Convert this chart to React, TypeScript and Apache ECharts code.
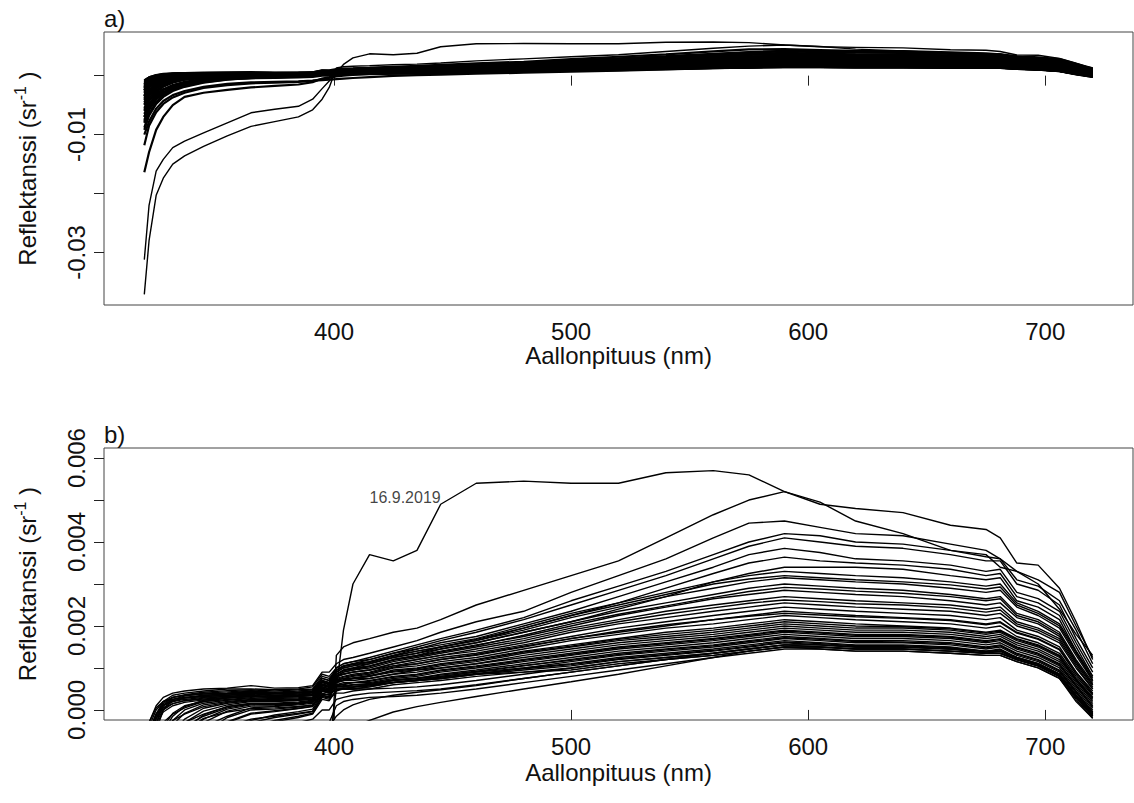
import React, { useEffect, useRef } from "react";
import * as echarts from "echarts";

// Sampled wavelengths (nm) shared by every spectrum
const WAVELENGTHS = [
  320, 322, 325, 328, 332, 337, 345, 355, 365, 375,
  385, 391, 395, 398, 401, 404, 408, 415, 425, 435,
  445, 460, 480, 500, 520, 540, 560, 575, 590, 605,
  620, 640, 660, 675, 681, 688, 697, 706, 713, 720,
];

// Remote-sensing reflectance spectra, in units of 1e-4 sr^-1
const UNIT = 1e-4;

const SPECTRUM_2019_09_16 = [
  -312, -220, -162, -142, -122, -111, -97, -80, -63, -57,
  -52, -40, -22, -9, 5, 19, 30, 37, 35.5, 38,
  49, 54, 54.5, 54, 54, 56.5, 57, 56, 52, 49,
  48, 47, 44, 43, 41, 35, 34.5, 29, 21, 12,
];
const SPECTRUM_B = [
  -371, -280, -203, -174, -150, -136, -120, -102, -86, -78,
  -70, -58, -40, -20, 13, 15, 16, 17, 18.5, 19.5,
  21.5, 25, 28.5, 32, 35.5, 41, 46.5, 50, 52, 49.5,
  45, 42, 38, 37, 34, 33, 30, 24, 18, 13,
];
const HIGH_1 = [
  -8, -3, 1, 3, 4, 4.5, 5, 5.2, 5.8, 5.2,
  5.3, 5.8, 9, 9, 11, 12, 12.5, 13.5, 15, 16.5,
  18.5, 21, 23.5, 28, 32, 36, 41, 44.5, 45, 43.5,
  42, 41.5, 39.5, 38, 36, 33, 31, 28, 20, 12.5,
];
const HIGH_2 = [
  -15, -6, -1, 2, 3.5, 4, 4.5, 5, 5, 4.8,
  5, 5.5, 8.5, 8, 10, 11, 11.5, 12.5, 14, 15.5,
  17, 19, 22, 26, 29.5, 33, 37, 40, 42, 41.5,
  40, 39.5, 38, 36.5, 36, 31, 29.5, 26, 19, 11,
];
const HIGH_3 = [
  -25, -10, -3, 1, 3, 3.6, 4.2, 4.6, 4.8, 4.5,
  4.8, 5, 8, 7.5, 9.5, 10.5, 11, 12, 13.5, 15,
  16.5, 18.5, 21.5, 25, 28.5, 32, 36, 39, 41, 40,
  39, 38.5, 37, 35.5, 35.5, 30, 28.5, 25, 17, 10,
];
const HIGH_4 = [
  -35, -14, -5, 0, 2.5, 3.3, 4, 4.3, 4.6, 4.2,
  4.5, 4.8, 7.5, 7, 9, 10, 10.5, 11.5, 13, 14.5,
  16, 17.5, 20.5, 23.5, 27, 30.5, 34, 37, 38.5, 37.5,
  36, 35.5, 34.5, 33, 33.5, 28, 26.5, 23.5, 16, 9,
];
const HIGH_5 = [
  -12, -5, -1, 1.5, 3, 3.5, 3.8, 4, 4.3, 4,
  4.2, 4.5, 7, 6.5, 8.5, 9.5, 10, 11, 12.5, 13.5,
  15, 16.5, 19.5, 22.5, 25.5, 29, 32.5, 35, 36.4, 35.5,
  35, 34.5, 33.5, 32, 32.5, 27, 25.5, 22.5, 15, 8,
];
const HIGH_6 = [
  -20, -8, -2, 1, 2.5, 3, 3.5, 3.8, 4, 3.8,
  4, 4.2, 6.8, 6, 8, 9, 9.5, 10.5, 12, 13,
  14.5, 16, 18.5, 21, 24, 27, 30.5, 32.5, 34, 34,
  34, 33.5, 32, 31, 31.5, 26, 24.5, 21.5, 14, 7,
];
const MID_1 = [
  -10, -4, 0, 2, 3, 3.5, 3.8, 4, 4.5, 4,
  4.2, 4.5, 7.5, 7, 10, 11, 11.5, 12, 13.5, 14.5,
  15.5, 17, 20, 23, 25.5, 28, 30.5, 32, 33, 32.5,
  32, 31.5, 30.5, 29.5, 30, 25.5, 23.5, 20.5, 14, 8,
];
const MID_2 = [
  -18, -7, -2, 0.5, 2, 2.8, 3.2, 3.5, 3.8, 3.5,
  3.8, 4, 7, 6.5, 9.5, 10.5, 11, 11.5, 13, 14,
  15, 16.5, 19, 22, 24.5, 27, 29, 30.5, 31.5, 31,
  30.5, 30, 29, 28, 28.5, 24.5, 22.5, 19.5, 13, 7,
];
const MID_3 = [
  -30, -18, -9.5, -5, -1.5, 0.8, 2.3, 2.9, 3.3, 3,
  3.3, 3.6, 6.5, 6, 9, 10, 10.5, 11, 12.5, 13.5,
  14.5, 16, 18.5, 21, 23.5, 25.5, 27.5, 29, 30, 29.5,
  29, 28.5, 27.5, 26.5, 27, 23, 21.5, 18.5, 12, 6.5,
];
const MID_4 = [
  -8, -3, 0.5, 2, 2.5, 3, 3.2, 3.5, 4, 3.5,
  3.5, 3.8, 6, 5.5, 8.5, 9.5, 10, 10.5, 12, 13,
  14, 15.5, 17.5, 20, 22.5, 24.5, 26.5, 27.5, 28.5, 28,
  27.5, 27, 26, 25, 25.5, 22, 20.5, 17.5, 11.5, 6,
];
const MID_5 = [
  -45, -30, -19, -12, -6.5, -3, -0.3, 1.2, 2, 2,
  2.3, 2.6, 5.5, 5, 8, 9, 9.5, 10, 11.5, 12.5,
  13.5, 15, 17, 19.5, 21.5, 23.5, 25, 26, 27, 26.5,
  26, 25.5, 25, 24, 24.5, 21, 19.5, 17, 11, 5.5,
];
const MID_6 = [
  -22, -9, -3, 0, 1.5, 2.2, 2.6, 3, 3.2, 3,
  3.2, 3.5, 6, 5.5, 8, 8.5, 9, 9.5, 11, 12,
  13, 14, 16, 18.5, 20.5, 22, 23.5, 24.5, 25.5, 25,
  24.5, 24, 23.5, 22.5, 23, 20, 18.5, 16, 10, 5,
];
const MID_7 = [
  -60, -42, -28, -19, -12, -7, -3, -0.3, 0.9, 1,
  1.4, 1.9, 5, 4.5, 7.5, 8, 8.5, 9, 10.5, 11.5,
  12.5, 13.5, 15.5, 17.5, 19.5, 21, 22.5, 23.5, 24.5, 24,
  23.5, 23, 22.5, 21.5, 22, 19, 17.5, 15, 9, 4,
];
const MID_8 = [
  -15, -6, -1.5, 1, 2, 2.5, 3, 3.2, 3.5, 3.2,
  3.4, 3.6, 6.2, 5.8, 8, 8.5, 9, 9.5, 10.5, 11,
  12, 13, 15, 17, 18.5, 20, 21.5, 22.5, 23.5, 23,
  22.5, 22, 21.5, 20.5, 21, 18.5, 17, 14.5, 9, 4.5,
];
const MID_9 = [
  -38, -24, -14, -8, -3.5, -0.8, 1.2, 2, 2.5, 2.3,
  2.5, 2.9, 5.5, 5, 7, 7.5, 8, 8.5, 10, 10.5,
  11.5, 12.5, 14.5, 16.5, 18, 19.5, 20.5, 21.5, 22.5, 22,
  21.5, 21, 20.5, 19.5, 20, 17.5, 16, 13.5, 8, 3.5,
];
const MID_10 = [
  -80, -58, -40, -29, -20, -13, -7, -2.8, -0.8, -0.2,
  0.4, 0.9, 4.5, 4, 7, 7.5, 7.5, 8, 9.5, 10,
  11, 12, 14, 15.5, 17, 18.5, 19.5, 20.5, 21.5, 21,
  20.5, 20, 19.5, 18.5, 19, 17, 15.5, 13, 7.5, 3,
];
const MID_11 = [
  -27, -16, -8, -4, -0.8, 1, 2, 2.5, 2.9, 2.7,
  2.9, 3.1, 5.5, 5, 6.5, 7, 7.5, 8, 9, 9.5,
  10.5, 11.5, 13.5, 15, 16.5, 17.5, 18.5, 19.5, 20.5, 20,
  19.5, 19.5, 19, 18, 18.5, 16.5, 15, 12.5, 7, 2.5,
];
const MID_12 = [
  -50, -34, -22, -14.5, -8.5, -4.5, -1.2, 0.8, 1.6, 1.6,
  1.9, 2.3, 5, 4.5, 6.5, 7, 7, 7.5, 8.5, 9.5,
  10, 11, 13, 14.5, 16, 17, 18, 19, 20, 19.5,
  19, 19, 18.5, 17.5, 18, 16, 14.5, 12, 7, 2,
];
const MID_13 = [
  -12, -5, -1, 1.2, 2.2, 2.8, 3.4, 3.8, 4.2, 3.9,
  4, 4.3, 6.8, 6.5, 7, 7, 7.5, 7.5, 8.5, 9,
  10, 11, 12.5, 14, 15.5, 16.5, 17.5, 18.5, 19.5, 19,
  18.5, 18.5, 18, 17, 17.5, 15.5, 14, 11.5, 6.5, 1.5,
];
const MID_14 = [
  -70, -50, -34, -24, -16, -10.5, -5.5, -1.8, 0, 0.2,
  0.7, 1.2, 4.5, 4, 6, 6.5, 6.5, 7, 8, 8.5,
  9.5, 10.5, 12, 13.5, 15, 16, 17, 18, 19, 18.5,
  18, 18, 17.5, 16.5, 17, 15, 13.5, 11, 6, 1,
];
const MID_15 = [
  -33, -20, -11, -6, -2.5, 0, 1.6, 2.3, 2.7, 2.5,
  2.7, 2.9, 5.2, 4.8, 6, 6, 6.5, 6.5, 7.5, 8,
  9, 10, 11.5, 13, 14.5, 15.5, 16.5, 17.5, 18.5, 18,
  17.5, 17.5, 17, 16, 16.5, 14.5, 13, 10.5, 5.5, 0.5,
];
const MID_16 = [
  -88, -64, -45, -33, -24, -17, -10, -5, -2.5, -1.2,
  -0.4, 0.2, 3.8, 3.5, 5.5, 5.5, 6, 6, 7, 7.5,
  8.5, 9.5, 11, 12.5, 14, 15, 16, 17, 18, 17.5,
  17, 17, 16.5, 15.5, 16, 14, 12.5, 10, 5, 0,
];
const MID_17 = [
  -42, -28, -17, -10.5, -5.5, -2.2, 0.4, 1.6, 2.2, 2.1,
  2.3, 2.6, 5, 4.5, 5.5, 5.5, 6, 6, 7, 7.5,
  8, 9, 10.5, 12, 13.5, 14.5, 15.5, 16.5, 17.5, 17,
  16.5, 16.5, 16, 15, 15.5, 13.5, 12, 9.5, 4.5, -0.5,
];
const MID_18 = [
  -25, -10, -3.5, -0.5, 1, 1.8, 2.4, 2.8, 3.2, 3,
  3.2, 3.4, 5.8, 5.3, 5.5, 5.5, 5.5, 6, 6.5, 7,
  8, 9, 10, 11.5, 13, 14, 15, 16, 17, 16.5,
  16, 16, 15.5, 14.5, 15, 13, 11.5, 9, 4, -0.5,
];
const MID_19 = [
  -92, -68, -48, -36, -26, -19, -12, -7, -4, -2.5,
  -1.5, -0.8, 3, 2.5, 4.5, 5, 5, 5.5, 6.5, 7,
  7.5, 8.5, 10, 11, 12.5, 13.5, 14.5, 15.5, 16.5, 16,
  15.5, 15.5, 15, 14, 14.5, 12.5, 11, 8.5, 3.5, -1,
];
const MID_20 = [
  -55, -38, -25, -17, -10.5, -6, -2.2, 0.2, 1.2, 1.3,
  1.6, 2, 4.5, 4, 5, 5, 5, 5.5, 6.5, 7,
  7.5, 8.5, 9.5, 10.5, 12, 13, 14, 15, 16, 15.5,
  15, 15, 14.5, 13.5, 14, 12, 10.5, 8, 3, -1,
];
const MID_21 = [
  -16, -6.5, -2, 0.5, 1.5, 2.2, 2.8, 3.2, 3.6, 3.4,
  3.6, 3.8, 6, 5.6, 6, 5.5, 5.5, 6, 6.5, 7,
  7.5, 8.5, 9, 10, 11.5, 12.5, 13.5, 14.5, 15.5, 15,
  14.5, 14.5, 14, 13.5, 13.5, 12, 10.5, 8, 3, -1.5,
];
const MID_22 = [
  -78, -56, -39, -28, -19, -13, -7, -3, -1, -0.4,
  0.3, 0.8, 4, 3.6, 5, 5, 5, 5, 6, 6.5,
  7, 8, 9, 9.5, 11, 12, 13, 14, 15, 14.5,
  14, 14, 13.5, 13, 13, 11.5, 10, 7.5, 2, -2,
];
const MID_23 = [
  -20, -12, -6, -3, -1, 0.5, 2, 2.8, 3.2, 3,
  3.3, 3.6, 6.6, 6.2, 9.5, 10.3, 10.8, 11.3, 12.8, 14,
  15, 16.8, 19.5, 22.5, 25, 27.5, 30, 31.2, 32, 31.5,
  31, 30.5, 29.8, 28.8, 29.3, 25, 23, 20, 13.5, 7.5,
];
const MID_24 = [
  -40, -28, -19, -14, -10, -7, -4, -1.5, 0.5, 0.8,
  1.2, 1.6, 4.8, 4.3, 8.5, 9.3, 9.8, 10.3, 11.8, 12.8,
  13.8, 15.3, 17.8, 20.5, 22.8, 24.8, 26.8, 28.2, 29.2, 28.8,
  28.3, 27.8, 27, 26, 26.5, 22.5, 21, 18, 11.5, 6,
];
const MID_25 = [
  -28, -19, -12, -8, -5, -3, -1, 0.8, 1.5, 1.4,
  1.6, 2, 5, 4.6, 7.8, 8.6, 9, 9.5, 11, 12,
  13, 14.5, 16.5, 19, 21, 22.8, 24.3, 25.4, 26.2, 25.8,
  25.3, 25, 24.3, 23.3, 23.8, 20.5, 19, 16.5, 10.5, 5,
];
const MID_26 = [
  -70, -50, -36, -28, -21, -16, -10, -5.5, -3, -1.8,
  -1, -0.4, 3.5, 3.1, 7.2, 7.8, 8.2, 8.8, 10.2, 11,
  12, 13.2, 15.2, 17, 18.8, 20.3, 21.5, 22.3, 23, 22.6,
  22.2, 21.8, 21.3, 20.3, 20.8, 18.3, 16.8, 14.3, 8.5, 3.8,
];
const MID_27 = [
  -35, -24, -15, -10, -6.5, -4, -1.5, 0.5, 1.4, 1.3,
  1.6, 2, 4.8, 4.3, 6.6, 7.2, 7.6, 8.2, 9.2, 9.8,
  10.8, 11.8, 13.8, 15.2, 16.8, 18, 19, 20, 21, 20.5,
  20, 19.8, 19.3, 18.3, 18.8, 16.8, 15.3, 12.8, 7.3, 2.8,
];
const MID_28 = [
  -58, -42, -30, -23, -17, -12.5, -7.5, -4, -2.2, -1.5,
  -0.8, -0.3, 3.2, 2.8, 5.8, 6.2, 6.5, 6.8, 7.8, 8.3,
  9.3, 10.3, 11.8, 13.2, 14.8, 15.8, 16.8, 17.8, 18.8, 18.3,
  17.8, 17.8, 17.3, 16.3, 16.8, 14.8, 13.3, 10.8, 5.8, 0.8,
];
const MID_29 = [
  -22, -14, -8, -5, -2.5, -1, 0.8, 1.8, 2.4, 2.2,
  2.4, 2.6, 5, 4.6, 5.6, 5.8, 6, 6.3, 7.2, 7.6,
  8.3, 9.2, 10.6, 11.8, 13.2, 14.3, 15.3, 16.3, 17.2, 16.8,
  16.3, 16.2, 15.8, 14.8, 15.3, 13.3, 11.8, 9.3, 4.3, -0.8,
];
const MID_30 = [
  -75, -55, -40, -31, -23, -17, -11, -6.5, -4, -2.8,
  -1.8, -1, 2.5, 2.2, 4.8, 5.2, 5.4, 5.7, 6.6, 7.2,
  7.8, 8.7, 9.8, 10.8, 12.2, 13.2, 14.2, 15.2, 16.2, 15.8,
  15.3, 15.3, 14.8, 13.8, 14.3, 12.3, 10.8, 8.3, 3.3, -1.2,
];
const LOW_1 = [
  -65, -47, -33, -24, -17, -12, -8, -5.5, -4.5, -4,
  -3, -2.2, 0, 0, 2.5, 3, 3.5, 4, 4.3, 4.6,
  5, 6, 7.5, 9, 10.5, 12, 13, 14, 15, 15,
  14.5, 14.5, 14, 13.5, 13.5, 12, 10.5, 8, 3, -1.5,
];
const LOW_2 = [
  -164, -130, -92, -70, -50, -36, -29, -24, -20, -17.5,
  -15, -11, -5, -3, 1, 2, 2.5, 3, 3.2, 3.5,
  4, 5, 6.5, 8, 9.5, 11, 12.5, 13.5, 14.5, 14.5,
  14, 14, 13.5, 13, 13, 11.5, 10, 7.5, 2.5, -2,
];
const LOW_3 = [
  -100, -78, -56, -43, -33, -26, -19, -14, -11.5, -10.5,
  -9.5, -8.5, -7.5, -7, -6, -5, -4, -2.5, -0.5, 0.8,
  1.8, 3.2, 5, 6.7, 8.5, 10.5, 12.5, 14, 15, 15,
  14.5, 14.5, 14, 13.5, 13.5, 12, 10.5, 8, 3, -1.5,
];
const LOW_4 = [
  -118, -85, -62, -48, -37, -29, -21, -16, -13, -12,
  -10.5, -9, -6, -4, -1.5, 0, 1.2, 2.5, 3.5, 4.2,
  4.8, 5.8, 7.5, 9, 10.5, 12, 13.5, 14.5, 15.5, 15.5,
  15, 15, 14.5, 14, 14, 12.5, 11, 8.5, 3.5, -1,
];
const LOW_5 = [
  -48, -33, -21, -14, -8.5, -5, -2, -0.5, 0.3, 0.5,
  0.8, 1.1, 3.5, 3, 4, 4, 4.5, 5, 5.2, 5.5,
  6, 7, 8.5, 10, 11.5, 12.5, 13.5, 14.5, 15.5, 15.5,
  15, 15, 14.5, 14, 14, 12.5, 11, 8.5, 3.5, -0.5,
];

// The two spectra that stand apart in panel a are drawn thinner there
const OUTLIERS = [SPECTRUM_2019_09_16, SPECTRUM_B];
const SPECTRA = [
  SPECTRUM_2019_09_16, SPECTRUM_B,
  HIGH_1, HIGH_2, HIGH_3, HIGH_4, HIGH_5, HIGH_6,
  MID_1, MID_2, MID_3, MID_4, MID_5, MID_6, MID_7, MID_8, MID_9, MID_10,
  MID_11, MID_12, MID_13, MID_14, MID_15, MID_16, MID_17, MID_18, MID_19, MID_20,
  MID_21, MID_22, MID_23, MID_24, MID_25, MID_26, MID_27, MID_28, MID_29, MID_30,
  LOW_1, LOW_2, LOW_3, LOW_4, LOW_5,
];

// Axis ticks and labelled values
const X_TICKS = [400, 500, 600, 700];
const A_Y_TICKS = [-0.03, -0.02, -0.01, 0];
const A_Y_LABELS = [-0.03, -0.01];
const B_Y_TICKS = [0, 0.001, 0.002, 0.003, 0.004, 0.005, 0.006];
const B_Y_LABELS = [0, 0.002, 0.004, 0.006];

// Date annotation in panel b
const NOTE_TEXT = "16.9.2019";
const NOTE_POS = [430, 0.00505];

const FONT = "'Liberation Sans', Arial, Helvetica, sans-serif";
const X_TITLE = "Aallonpituus (nm)";
const Y_TITLE = "{m|Reflektanssi (sr}{s|-1}{m| )}";

function xAxis(gridIndex: number, nameGap: number) {
  return {
    type: "value",
    gridIndex,
    min: 303,
    max: 737,
    axisLine: { show: false },
    splitLine: { show: false },
    axisTick: {
      show: true,
      length: 10,
      customValues: X_TICKS,
      lineStyle: { color: "#222", width: 1 },
    },
    axisLabel: {
      customValues: X_TICKS,
      fontSize: 24,
      fontFamily: FONT,
      color: "#111",
      margin: 14,
    },
    name: X_TITLE,
    nameLocation: "middle",
    nameGap,
    nameTextStyle: { fontSize: 24, fontFamily: FONT, color: "#111" },
  };
}

function yAxis(gridIndex: number, min: number, max: number, ticks: number[], labels: number[], digits: number) {
  return {
    type: "value",
    gridIndex,
    min,
    max,
    axisLine: { show: false },
    splitLine: { show: false },
    axisTick: {
      show: true,
      length: 10,
      customValues: ticks,
      lineStyle: { color: "#222", width: 1 },
    },
    axisLabel: {
      customValues: labels,
      rotate: 90,
      fontSize: 24,
      fontFamily: FONT,
      color: "#111",
      margin: 16,
      formatter: (v: number) => v.toFixed(digits),
    },
    name: Y_TITLE,
    nameLocation: "middle",
    nameRotate: 90,
    nameGap: 62,
    nameTextStyle: {
      fontFamily: FONT,
      color: "#111",
      rich: {
        m: { fontSize: 24, fontFamily: FONT, color: "#111", lineHeight: 30 },
        s: { fontSize: 16, fontFamily: FONT, color: "#111", verticalAlign: "top", lineHeight: 16 },
      },
    },
  };
}

export default function App() {
  const ref = useRef<HTMLDivElement>(null);

  useEffect(() => {
    if (!ref.current) return;
    const chart = echarts.init(ref.current, undefined, { renderer: "svg" });

    const series: any[] = [];
    SPECTRA.forEach((spec) => {
      const data = WAVELENGTHS.map((w, i) => [w, spec[i] * UNIT]);
      const outlier = OUTLIERS.includes(spec);
      for (const p of [0, 1]) {
        series.push({
          type: "line",
          xAxisIndex: p,
          yAxisIndex: p,
          data,
          symbol: "none",
          showSymbol: false,
          clip: true,
          silent: true,
          lineStyle: { color: "#000", width: p === 0 ? (outlier ? 1.4 : 2.2) : 1.4 },
        });
      }
    });
    series.push({
      type: "scatter",
      xAxisIndex: 1,
      yAxisIndex: 1,
      symbolSize: 0,
      silent: true,
      data: [NOTE_POS],
      label: {
        show: true,
        position: "inside",
        formatter: NOTE_TEXT,
        fontSize: 16,
        fontFamily: FONT,
        color: "#111",
      },
    });

    chart.setOption({
      animation: false,
      backgroundColor: "#fff",
      grid: [
        { left: 104, top: 32, width: 1029, height: 273, show: true, borderColor: "#444", borderWidth: 1, backgroundColor: "transparent" },
        { left: 104, top: 448, width: 1029, height: 272, show: true, borderColor: "#444", borderWidth: 1, backgroundColor: "transparent" },
      ],
      xAxis: [xAxis(0, 36), xAxis(1, 40)],
      yAxis: [
        yAxis(0, -0.0389, 0.0074, A_Y_TICKS, A_Y_LABELS, 2),
        yAxis(1, -0.00024, 0.00624, B_Y_TICKS, B_Y_LABELS, 3),
      ],
      graphic: [
        { type: "text", left: 104, top: 6, style: { text: "a)", fontSize: 24, fontFamily: FONT, fill: "#111" } },
        { type: "text", left: 104, top: 422, style: { text: "b)", fontSize: 24, fontFamily: FONT, fill: "#111" } },
      ],
      series,
    });

    return () => chart.dispose();
  }, []);

  return (
    <div
      ref={ref}
      style={{ position: "fixed", left: 0, top: 0, width: 1134, height: 803, background: "#fff" }}
    />
  );
}
